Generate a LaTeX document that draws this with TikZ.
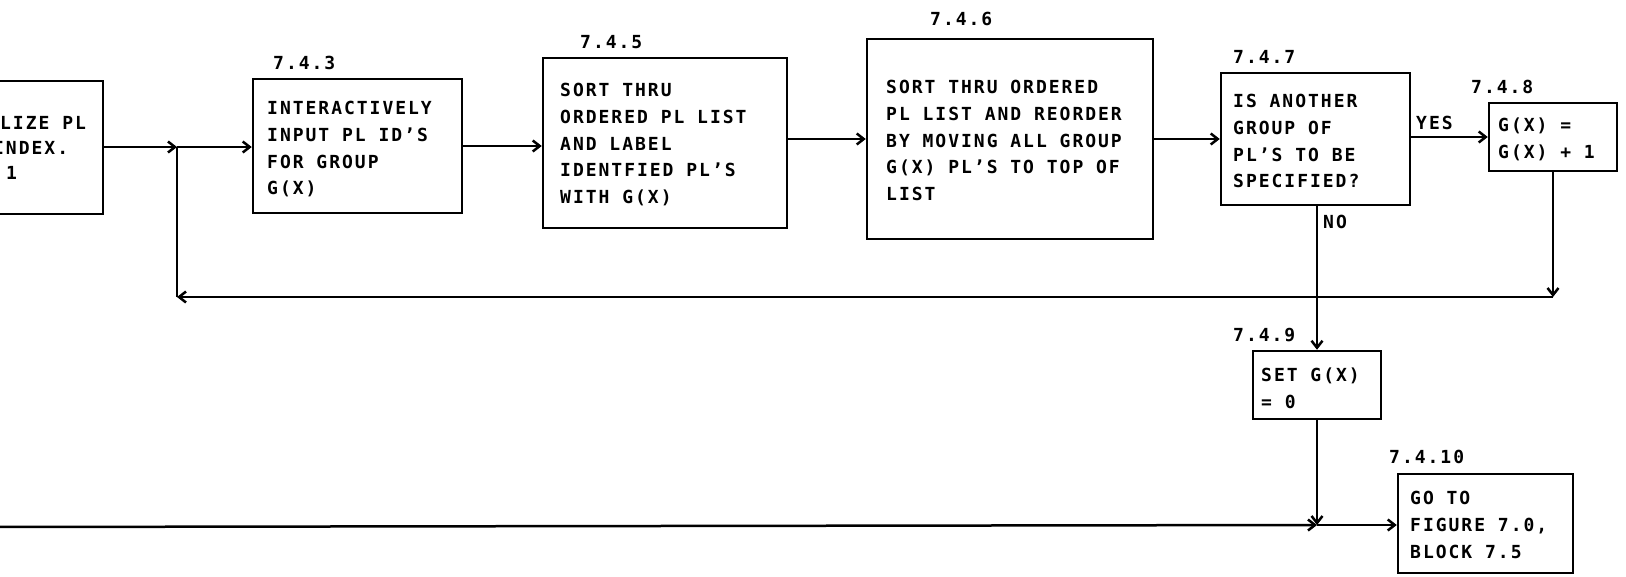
\documentclass[tikz,border=0pt]{standalone}
\usepackage{fontspec}
\usetikzlibrary{arrows.meta}
\newfontfamily\lettering{DejaVu Sans Mono Bold}[LetterSpace=11]
\tikzset{
  box/.style={draw, line width=2.5pt, inner sep=0pt},
  txt/.style={anchor=west, inner sep=0pt, text height=13.3pt, text depth=0pt,
              font={\lettering\fontsize{18}{20}\selectfont}},
  conn/.style={line width=2.5pt, -{Straight Barb[length=7pt,width=11pt]}},
  plain/.style={line width=2.5pt}
}
\newcommand\textlines[4]{%
  \foreach \ln [count=\i] in {#4}{
    \node[txt] (#1-\i) at (#2, {#3+(\i-1)*26.7}) {\ln};
  }%
}
\begin{document}
\begin{tikzpicture}[x=1pt,y=-1pt]
\useasboundingbox (0,0) rectangle (1626,576);
\clip (0,0) rectangle (1626,576);

% boxes
\node[box, minimum width=163pt, minimum height=133pt] (b1) at (21.5,147.5) {};
\node[box, minimum width=209pt, minimum height=134pt] (b743) at (357.5,146) {};
\node[box, minimum width=244pt, minimum height=170pt] (b745) at (665,143) {};
\node[box, minimum width=286pt, minimum height=200pt] (b746) at (1010,139) {};
\node[box, minimum width=189pt, minimum height=132pt] (b747) at (1315.5,139) {};
\node[box, minimum width=128pt, minimum height=68pt] (b748) at (1553,137) {};
\node[box, minimum width=128pt, minimum height=68pt] (b749) at (1317,385) {};
\node[box, minimum width=175pt, minimum height=99pt] (b7410) at (1485.5,523.5) {};

% box texts
\node[txt] (t1a) at (0,123) {LIZE PL};
\node[txt] (t1b) at (-7,148) {INDEX.};
\node[txt] (t1c) at (6,173) {1};
\textlines{t743}{267}{108}{INTERACTIVELY, INPUT PL ID’S, FOR GROUP, G(X)}
\textlines{t745}{560}{90}{SORT THRU, ORDERED PL LIST, AND LABEL, IDENTFIED PL’S, WITH G(X)}
\textlines{t746}{886}{87}{SORT THRU ORDERED, PL LIST AND REORDER, BY MOVING ALL GROUP, G(X) PL’S TO TOP OF, LIST}
\textlines{t747}{1233}{101}{IS ANOTHER, GROUP OF, PL’S TO BE, SPECIFIED?}
\textlines{t748}{1498}{125}{G(X) =, G(X) + 1}
\textlines{t749}{1261}{375}{SET G(X), = 0}
\textlines{t7410}{1410}{498}{GO TO, {FIGURE 7.0,}, BLOCK 7.5}

% block numbers
\node[txt] (l743) at (273,63) {7.4.3};
\node[txt] (l745) at (580,42) {7.4.5};
\node[txt] (l746) at (930,19) {7.4.6};
\node[txt] (l747) at (1233,57) {7.4.7};
\node[txt] (l748) at (1471,87) {7.4.8};
\node[txt] (l749) at (1233,335) {7.4.9};
\node[txt] (l7410) at (1389,457) {7.4.10};
\node[txt] (yes) at (1416,123) {YES};
\node[txt] (no) at (1323,222) {NO};

% junctions and corners
\coordinate (J1) at (177,147);
\coordinate (C1) at (177,297);
\coordinate (C2) at (1553,297);
\coordinate (J2) at (1317,525);
\coordinate (L0) at (-5,527);

% connectors
\draw[conn] (b1.east |- J1) -- (J1);
\draw[conn] (J1) -- (J1 -| b743.west);
\draw[conn] (b743.east) -- (b743.east -| b745.west);
\draw[conn] (b745.east |- b746.west) -- (b746.west);
\draw[conn] (b746.east) -- (b746.east -| b747.west);
\draw[conn] (b747.east |- b748.west) -- (b748.west);
\draw[conn] (b748.south) -- (C2);
\draw[conn] (C2) -- (C1);
\draw[plain] (C1) -- (J1);
\draw[conn] (b747.south -| b749.north) -- (b749.north);
\draw[conn] (b749.south) -- (J2);
\draw[conn] (L0) -- (J2);
\draw[conn] (J2) -- (J2 -| b7410.west);
\end{tikzpicture}
\end{document}
